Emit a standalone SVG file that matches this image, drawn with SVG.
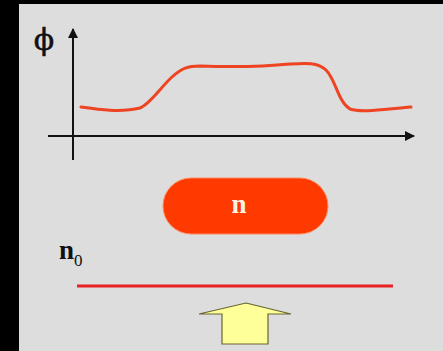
<svg xmlns="http://www.w3.org/2000/svg" width="443" height="351" viewBox="0 0 443 351">
<defs>
<style>
.axis{stroke:#111;stroke-width:2;fill:none}
.curve{stroke:#ee4422;stroke-width:3;fill:none;stroke-linecap:round}
.serif{font-family:"Liberation Serif","DejaVu Serif",serif}
</style>
<marker id="ah" viewBox="0 0 10 10" refX="9" refY="5" markerWidth="5" markerHeight="5" orient="auto" markerUnits="strokeWidth">
<path d="M0,0 L10,5 L0,10 z" fill="#111"/>
</marker>
</defs>
<rect x="0" y="0" width="443" height="351" fill="#000"/>
<rect x="19" y="4" width="424" height="347" fill="#dddddd"/>
<g id="connectors">
<line class="axis" x1="73" y1="160" x2="73" y2="29" marker-end="url(#ah)"/>
<line class="axis" x1="48" y1="136" x2="414" y2="136" marker-end="url(#ah)"/>
</g>
<g id="phi-label">
<text x="44" y="50" font-family="'DejaVu Serif',serif" font-size="30" text-anchor="middle" fill="#111" stroke="#111" stroke-width="0.5">ϕ</text>
</g>
<g id="curve">
<path class="curve" d="M81,107 C95,109 120,113 140,108 C150,104 160,88 172,77 C182,68 188,66 200,66 C230,67 260,67 290,64 C305,63 318,62 326,70 C336,80 338,102 350,109 C362,113 385,109 411,107"/>
</g>
<g id="node-n">
<rect x="163" y="178" width="165" height="56" rx="28" ry="28" fill="#ff3a00" stroke="#ff8a60" stroke-width="1"/>
<text class="serif" x="239" y="213" font-size="27" font-weight="bold" text-anchor="middle" fill="#fff5e6">n</text>
</g>
<g id="label-n0">
<text class="serif" x="59" y="259" font-size="27" font-weight="bold" fill="#111">n<tspan font-size="17" dy="7" font-weight="normal">0</tspan></text>
</g>
<g id="line-n0">
<line x1="77" y1="286" x2="393" y2="286" stroke="#e82222" stroke-width="3"/>
</g>
<g id="arrow-up">
<path d="M246,303 L291,314 L268,314 L268,344 L222,344 L222,314 L199,314 Z" fill="#ffff99" stroke="#666633" stroke-width="1.2" stroke-linejoin="miter"/>
</g>
</svg>
